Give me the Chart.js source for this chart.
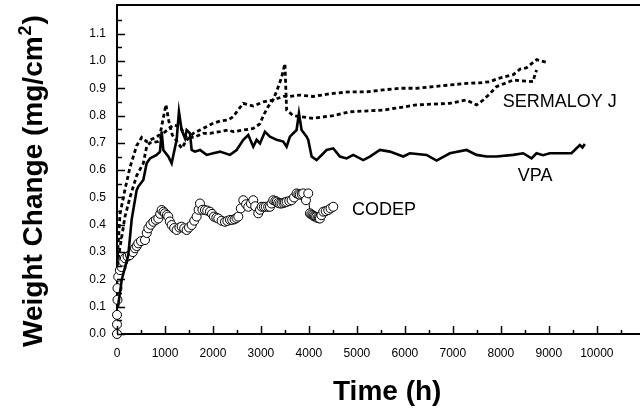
<!DOCTYPE html>
<html>
<head>
<meta charset="utf-8">
<script src="https://cdn.jsdelivr.net/npm/chart.js@4.4.1/dist/chart.umd.min.js"></script>
<style>
  html, body { margin: 0; padding: 0; background: #fff; }
</style>
</head>
<body>
<canvas id="myChart" width="640" height="411"></canvas>
<script>
// [hours, weight change mg/cm2]
const sermaloyA = [
    [0, 0.26], [63, 0.44], [167, 0.53], [270, 0.61], [410, 0.69], [514, 0.72], [618, 0.705],
    [757, 0.716], [896, 0.73], [1020, 0.84], [1080, 0.78], [1150, 0.73], [1350, 0.68],
    [1450, 0.71], [1590, 0.735], [1730, 0.747], [2007, 0.772], [2146, 0.78], [2320, 0.784],
    [2420, 0.796], [2630, 0.845], [2840, 0.835], [3050, 0.85], [3250, 0.857], [3470, 0.87],
    [3600, 0.87], [3810, 0.875], [4090, 0.87], [4440, 0.88], [4854, 0.887], [5200, 0.887],
    [5548, 0.894], [5900, 0.9], [6243, 0.9], [6590, 0.906], [6937, 0.912], [7285, 0.918],
    [7560, 0.92], [7771, 0.924], [7944, 0.936], [8260, 0.95], [8400, 0.97], [8535, 0.975],
    [8745, 1.005], [8950, 0.995]
]
const sermaloyB = [
    [0, 0.25], [167, 0.43], [270, 0.5], [410, 0.58], [548, 0.625], [618, 0.686], [687, 0.7],
    [860, 0.705], [965, 0.735], [1170, 0.765], [1312, 0.76], [1450, 0.72], [1600, 0.72],
    [1800, 0.735], [1940, 0.735], [2146, 0.741], [2320, 0.747], [2420, 0.741], [2840, 0.753],
    [2980, 0.77], [3050, 0.8], [3150, 0.833], [3250, 0.857], [3330, 0.89], [3430, 0.94],
    [3500, 0.99], [3535, 0.82], [3670, 0.8], [3810, 0.796], [4090, 0.79], [4510, 0.8],
    [4854, 0.814], [5548, 0.82], [6243, 0.839], [6937, 0.845], [7285, 0.857], [7493, 0.839],
    [7632, 0.857], [7771, 0.88], [7910, 0.906], [8260, 0.93], [8670, 0.924], [8710, 0.95],
    [8745, 0.967]
]
const vpa = [
    [20, 0.1], [100, 0.2], [236, 0.29], [306, 0.42], [410, 0.527], [444, 0.54], [548, 0.564],
    [618, 0.625], [687, 0.643], [826, 0.656], [896, 0.668], [931, 0.741], [965, 0.674],
    [1069, 0.65], [1139, 0.625], [1243, 0.711], [1291, 0.814], [1347, 0.747], [1417, 0.717],
    [1452, 0.747], [1521, 0.735], [1556, 0.674], [1625, 0.668], [1730, 0.674], [1868, 0.656],
    [2007, 0.662], [2146, 0.668], [2354, 0.656], [2493, 0.674], [2632, 0.711], [2736, 0.729],
    [2840, 0.686], [2910, 0.711], [2980, 0.698], [3083, 0.741], [3188, 0.723], [3327, 0.711],
    [3465, 0.705], [3535, 0.686], [3604, 0.723], [3743, 0.747], [3792, 0.808], [3847, 0.747],
    [3952, 0.723], [3986, 0.711], [4056, 0.65], [4160, 0.637], [4368, 0.674], [4507, 0.68],
    [4646, 0.65], [4785, 0.643], [4924, 0.656], [5132, 0.637], [5270, 0.65], [5479, 0.674],
    [5687, 0.668], [5965, 0.65], [6104, 0.662], [6451, 0.656], [6660, 0.635], [6937, 0.662],
    [7285, 0.674], [7493, 0.656], [7702, 0.65], [7910, 0.65], [8257, 0.656], [8465, 0.662],
    [8639, 0.643], [8743, 0.662], [8880, 0.655], [9020, 0.662], [9472, 0.662], [9646, 0.692],
    [9700, 0.683], [9750, 0.696]
]
const codep = [
    [0, 0.0], [0, 0.035], [0, 0.07], [10, 0.125], [10, 0.168], [25, 0.21], [60, 0.234],
    [95, 0.245], [130, 0.265], [165, 0.278], [220, 0.284], [270, 0.289], [330, 0.3],
    [375, 0.314], [410, 0.322], [444, 0.332], [500, 0.34], [583, 0.344], [620, 0.37],
    [653, 0.387], [700, 0.4], [757, 0.411], [810, 0.418], [860, 0.423], [900, 0.44],
    [931, 0.454], [970, 0.448], [1000, 0.442], [1040, 0.436], [1069, 0.43], [1100, 0.412],
    [1139, 0.399], [1190, 0.388], [1243, 0.381], [1300, 0.39], [1347, 0.393], [1400, 0.387],
    [1452, 0.381], [1500, 0.39], [1556, 0.399], [1610, 0.415], [1660, 0.43], [1700, 0.455],
    [1729, 0.478], [1780, 0.455], [1833, 0.454], [1880, 0.452], [1937, 0.448], [1980, 0.44],
    [2020, 0.43], [2070, 0.426], [2111, 0.423], [2180, 0.415], [2250, 0.411], [2300, 0.414],
    [2354, 0.418], [2400, 0.418], [2450, 0.42], [2490, 0.425], [2528, 0.43], [2580, 0.46],
    [2632, 0.49], [2690, 0.475], [2736, 0.466], [2790, 0.478], [2840, 0.49], [2880, 0.468],
    [2944, 0.442], [2980, 0.455], [3014, 0.466], [3060, 0.466], [3100, 0.466], [3150, 0.466],
    [3188, 0.466], [3220, 0.478], [3257, 0.49], [3300, 0.487], [3330, 0.485], [3360, 0.48],
    [3396, 0.478], [3430, 0.478], [3470, 0.48], [3500, 0.482], [3535, 0.484], [3590, 0.487],
    [3639, 0.49], [3690, 0.5], [3743, 0.515], [3780, 0.512], [3810, 0.51], [3850, 0.512],
    [3882, 0.515], [3938, 0.49], [3986, 0.515], [4021, 0.442], [4050, 0.438], [4075, 0.435],
    [4100, 0.432], [4125, 0.43], [4150, 0.428], [4180, 0.425], [4205, 0.424], [4229, 0.423],
    [4260, 0.435], [4299, 0.448], [4350, 0.45], [4403, 0.454], [4450, 0.46], [4507, 0.466]
]
const xTicks = [0, 1000, 2000, 3000, 4000, 5000, 6000, 7000, 8000, 9000, 10000]
const yTicks = [0.0, 0.1, 0.2, 0.3, 0.4, 0.5, 0.6, 0.7, 0.8, 0.9, 1.0, 1.1]
const seriesNames = ["SERMALOY J", "VPA", "CODEP"]

function toPoints(arr) {
    return arr.map(function (p) { return { x: p[0], y: p[1] } })
}

// where the series names sit, in data units
const nameSpots = [[8040, 0.85], [8354, 0.579], [4896, 0.454]]

const extras = {
    id: 'extras',
    afterDraw: function (chart) {
        const ctx = chart.ctx
        const xs = chart.scales.x
        const ys = chart.scales.y
        const area = chart.chartArea
        ctx.save()
        ctx.strokeStyle = '#000'
        ctx.lineWidth = 2
        ctx.beginPath()
        ctx.moveTo(area.left - 1, area.top)
        ctx.lineTo(area.right, area.top)
        ctx.stroke()

        // ticks point inward
        ctx.lineWidth = 1.5
        ctx.beginPath()
        for (let i = 0; i <= 21; i++) {
            const px = Math.round(xs.getPixelForValue(i * 500)) + 0.5
            const len = i % 2 === 0 ? 8 : 4
            ctx.moveTo(px, area.bottom)
            ctx.lineTo(px, area.bottom - len)
        }
        for (let i = 0; i <= 23; i++) {
            const py = Math.round(ys.getPixelForValue(i * 0.05)) + 0.5
            const len = i % 2 === 0 ? 8 : 5
            ctx.moveTo(area.left, py)
            ctx.lineTo(area.left + len, py)
        }
        ctx.stroke()

        // series names
        ctx.fillStyle = '#000'
        ctx.font = '18px "Liberation Sans", Arial, sans-serif'
        ctx.textBaseline = 'middle'
        ctx.textAlign = 'left'
        for (let i = 0; i < seriesNames.length; i++) {
            ctx.fillText(seriesNames[i], xs.getPixelForValue(nameSpots[i][0]), ys.getPixelForValue(nameSpots[i][1]))
        }

        // axis titles
        const bold = 'bold 28px "Liberation Sans", Arial, sans-serif'
        const sup = 'bold 18px "Liberation Sans", Arial, sans-serif'
        ctx.textBaseline = 'alphabetic'
        ctx.font = bold
        ctx.fillText('Time (h)', 333, 400)

        ctx.translate(42, 347)
        ctx.rotate(-Math.PI / 2)
        const part1 = 'Weight Change (mg/cm'
        ctx.font = bold
        ctx.fillText(part1, 0, 0)
        let w = ctx.measureText(part1).width
        ctx.font = sup
        ctx.fillText('2', w + 1, -11)
        w = w + 1 + ctx.measureText('2').width + 1
        ctx.font = bold
        ctx.fillText(')', w, 0)
        ctx.restore()
    }
}

const config = {
    type: 'scatter',
    data: {
        datasets: [
            {
                label: seriesNames[0],
                data: toPoints(sermaloyA),
                showLine: true,
                borderColor: '#000',
                borderWidth: 2.8,
                borderDash: [4, 3],
                pointRadius: 0,
                tension: 0
            },
            {
                label: seriesNames[0],
                data: toPoints(sermaloyB),
                showLine: true,
                borderColor: '#000',
                borderWidth: 2.8,
                borderDash: [4, 3],
                pointRadius: 0,
                tension: 0
            },
            {
                label: seriesNames[1],
                data: toPoints(vpa),
                showLine: true,
                borderColor: '#000',
                borderWidth: 2.6,
                pointRadius: 0,
                tension: 0
            },
            {
                label: seriesNames[2],
                data: toPoints(codep),
                showLine: true,
                borderColor: '#000',
                borderWidth: 1,
                pointRadius: 4.5,
                pointBorderWidth: 1,
                pointBorderColor: '#000',
                pointBackgroundColor: '#fff',
                tension: 0,
                clip: 8
            }
        ]
    },
    options: {
        responsive: false,
        animation: false,
        devicePixelRatio: 1,
        layout: { autoPadding: false, padding: { top: 5, right: 0, left: 0, bottom: 0 } },
        plugins: { legend: { display: false }, tooltip: { enabled: false } },
        scales: {
            x: {
                type: 'linear',
                min: 0,
                max: 10900,
                grid: { display: false, drawTicks: false },
                border: { display: true, color: '#000', width: 2 },
                afterBuildTicks: function (scale) {
                    scale.ticks = xTicks.map(function (v) { return { value: v } })
                },
                afterFit: function (scale) {
                    scale.height = 77
                    scale.paddingLeft = 0
                    scale.paddingRight = 0
                },
                ticks: {
                    padding: 12,
                    color: '#000',
                    maxRotation: 0,
                    font: { family: '"Liberation Sans", Arial, sans-serif', size: 12 },
                    callback: function (v) { return String(v) }
                }
            },
            y: {
                type: 'linear',
                min: 0,
                max: 1.205,
                grid: { display: false, drawTicks: false },
                border: { display: true, color: '#000', width: 2 },
                afterBuildTicks: function (scale) {
                    scale.ticks = yTicks.map(function (v) { return { value: v } })
                },
                afterFit: function (scale) {
                    scale.width = 117
                    scale.paddingTop = 0
                    scale.paddingBottom = 0
                },
                ticks: {
                    padding: 11,
                    color: '#000',
                    font: { family: '"Liberation Sans", Arial, sans-serif', size: 12 },
                    callback: function (v) { return Number(v).toFixed(1) }
                }
            }
        }
    },
    plugins: [extras]
}

const myChart = new Chart(document.getElementById('myChart'), config)
</script>
</body>
</html>
